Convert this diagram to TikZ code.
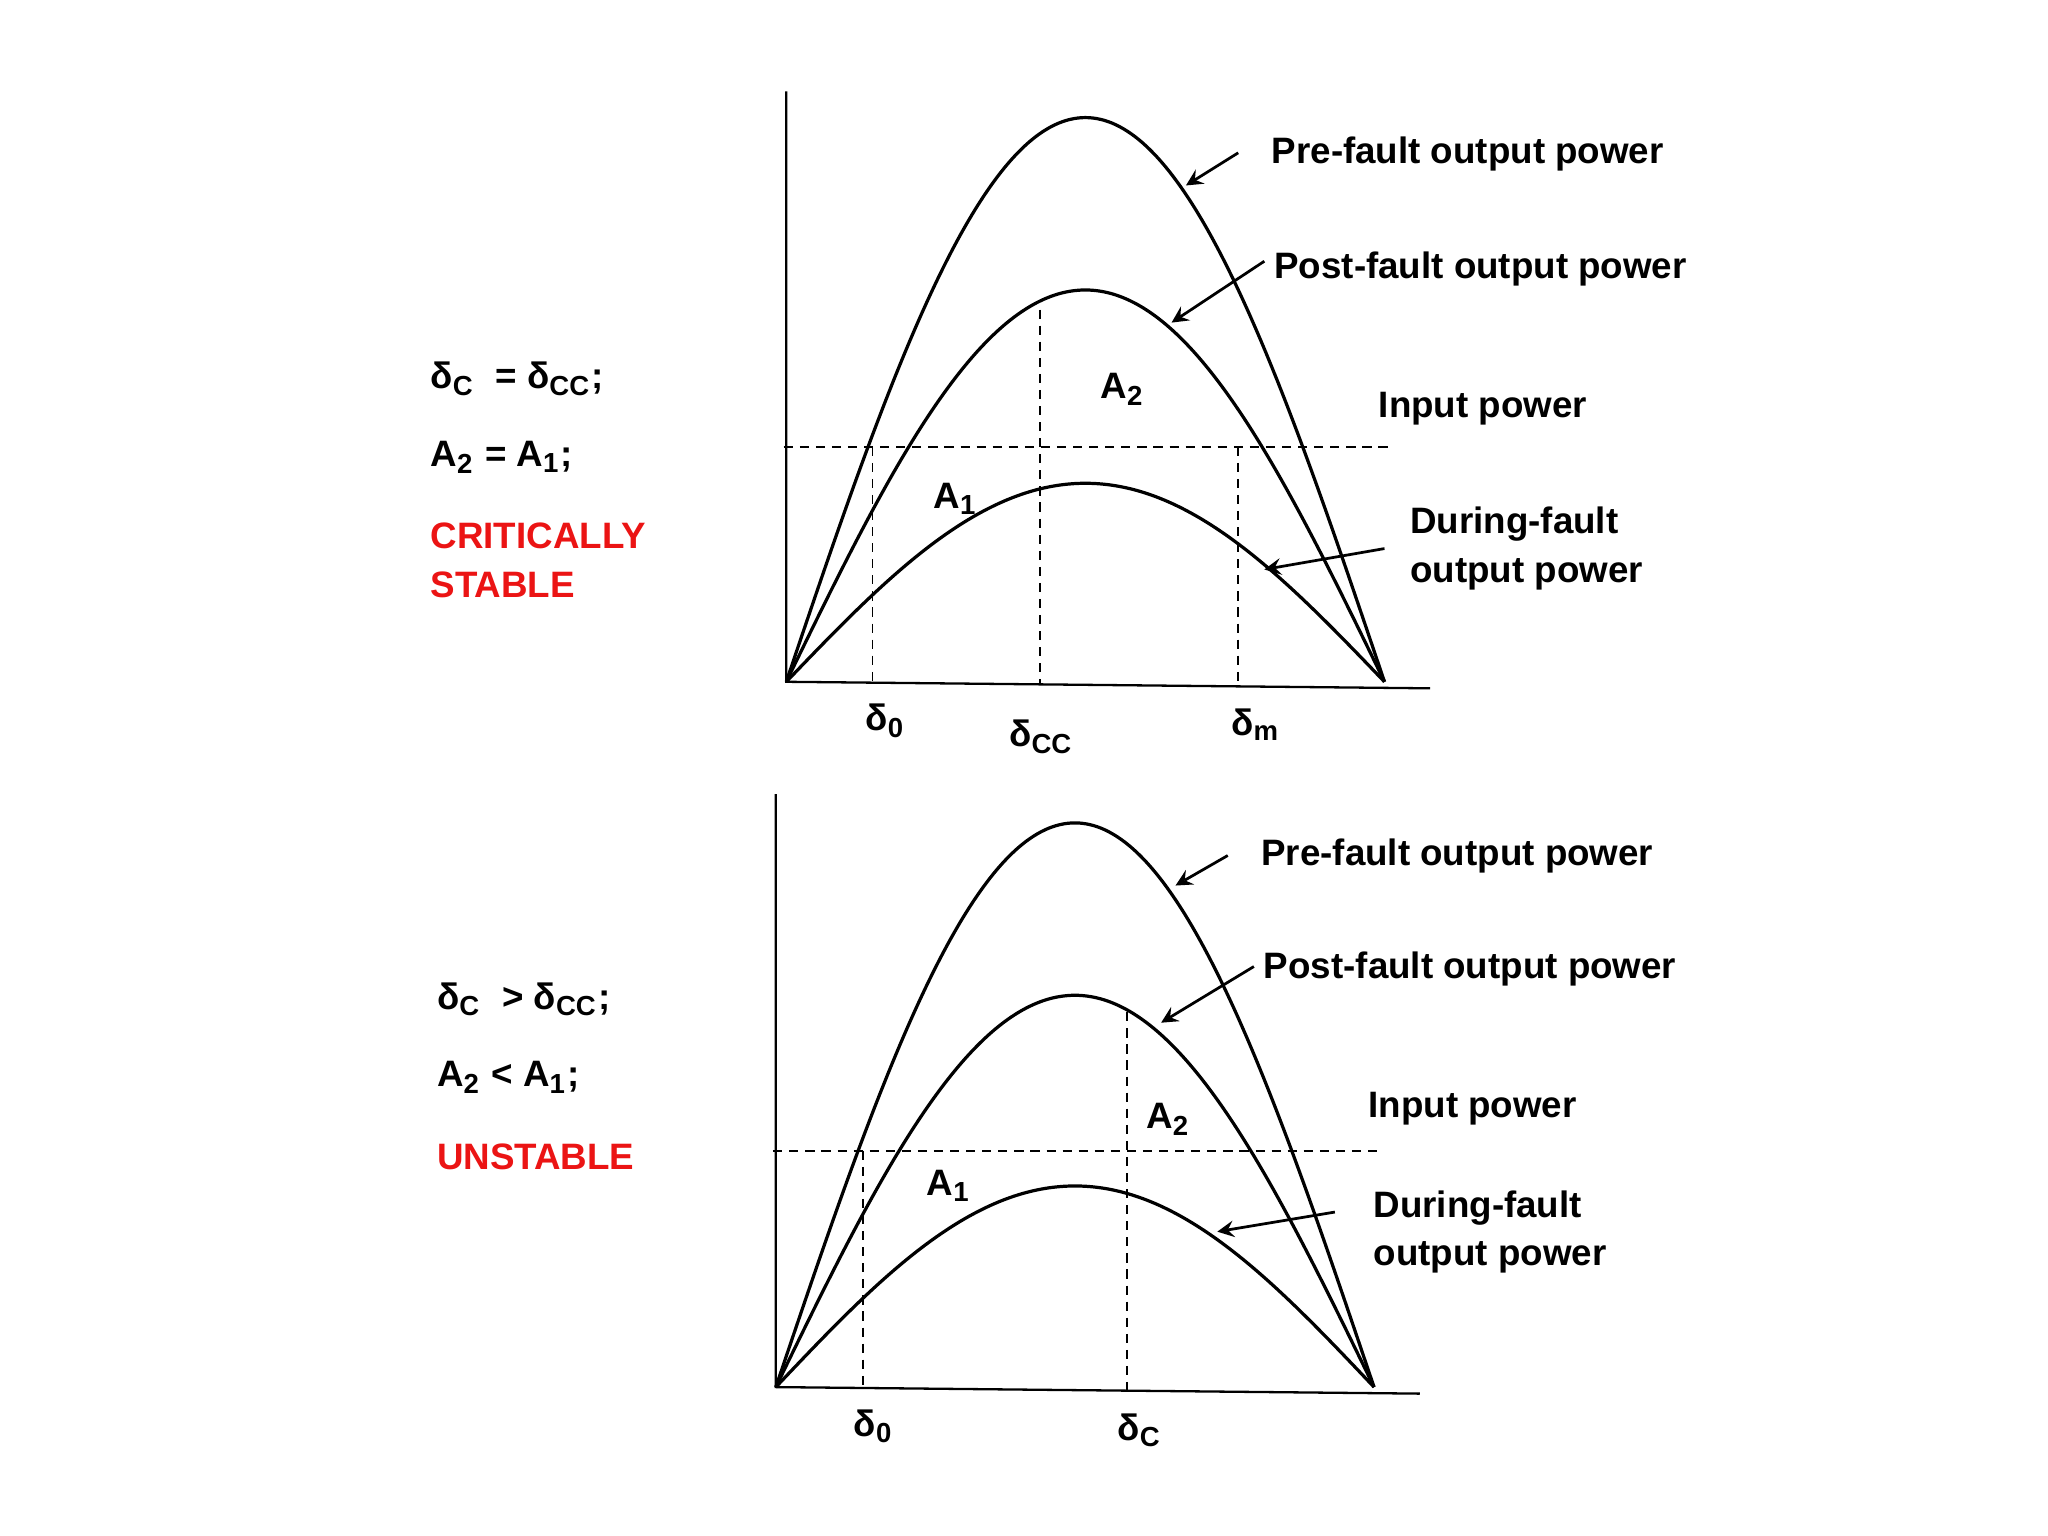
\documentclass[tikz,border=0pt]{standalone}
\usepackage{fontspec}
\setmainfont{Liberation Sans}
\newcommand{\subs}[1]{\textsubscript{#1}}
\begin{document}
\begin{tikzpicture}[x=0.01cm,y=-0.01cm,
  lbl/.style={font=\fontsize{8}{10.5}\selectfont\bfseries,inner sep=0,anchor=west,align=left},
  red/.style={lbl,text={rgb,255:red,235;green,20;blue,20}},
  curve/.style={line width=0.7pt},
  dsh/.style={dashed,line width=0.4pt,dash pattern=on 2pt off 1.5pt},
  arr/.style={-stealth,line width=0.6pt}]
\useasboundingbox (0,0) rectangle (1568,1176);
% ---- top plot ----
\coordinate (o1) at (602,522);
\draw[line width=0.5pt] (602,70) -- (o1) -- (1095,527);
\foreach \A in {432,300,152}
  \draw[curve] plot[domain=0:458,samples=80,smooth] ({602+\x},{522-\A*sin(\x/458*180)});
\draw[dsh] (600,342) -- (1063,342);
\draw[dsh] (668,342) -- (668,523);
\draw[dsh] (796,237) -- (796,524);
\draw[dsh] (948,342) -- (948,525);
\node[lbl] (t1) at (973,118) {Pre-fault output power};
\node[lbl] (t2) at (975,206) {Post-fault output power};
\node[lbl] (t3) at (1055,313) {Input power};
\node[lbl] (t4) at (1079,420) {During-fault\\output power};
\coordinate (a1) at (908,142); \coordinate (a2) at (897,247); \coordinate (a3) at (968,436);
\draw[arr] (948,117) -- (a1);
\draw[arr] (968,200) -- (a2);
\draw[arr] (1060,420) -- (a3);
\node[lbl] (ta2) at (842,298) {A\subs{2}};
\node[lbl] (ta1) at (714,382) {A\subs{1}};
\node[lbl] (d0) at (662,552) {δ\subs{0}};
\node[lbl] (dcc) at (772,564) {δ\subs{CC}};
\node[lbl] (dm) at (942,555) {δ\subs{m}};
\node[lbl] (l1) at (329,290) {δ\subs{C}\ \ =\ δ\subs{CC};};
\node[lbl] (l2) at (329,350) {A\subs{2} = A\subs{1};};
\node[red] (l3) at (329,429) {CRITICALLY\\STABLE};
% ---- bottom plot ----
\coordinate (o2) at (594,1062);
\draw[line width=0.5pt] (594,608) -- (o2) -- (1087,1067);
\foreach \A in {432,300,154}
  \draw[curve] plot[domain=0:458,samples=80,smooth] ({594+\x},{1062-\A*sin(\x/458*180)});
\draw[dsh] (592,881) -- (1055,881);
\draw[dsh] (661,881) -- (661,1063);
\draw[dsh] (863,775) -- (863,1064);
\node[lbl] (b1) at (965,655) {Pre-fault output power};
\node[lbl] (b2) at (967,742) {Post-fault output power};
\node[lbl] (b3) at (1047,849) {Input power};
\node[lbl] (b4) at (1051,943) {During-fault\\output power};
\coordinate (c1) at (900,678); \coordinate (c2) at (889,783); \coordinate (c3) at (932,943);
\draw[arr] (940,655) -- (c1);
\draw[arr] (960,740) -- (c2);
\draw[arr] (1022,928) -- (c3);
\node[lbl] (ba2) at (877,857) {A\subs{2}};
\node[lbl] (ba1) at (709,908) {A\subs{1}};
\node[lbl] (e0) at (653,1092) {δ\subs{0}};
\node[lbl] (ec) at (855,1095) {δ\subs{C}};
\node[lbl] (m1) at (334,765) {δ\subs{C}\ \ >\ δ\subs{CC};};
\node[lbl] (m2) at (334,825) {A\subs{2} < A\subs{1};};
\node[red] (m3) at (334,886) {UNSTABLE};
\end{tikzpicture}
\end{document}
